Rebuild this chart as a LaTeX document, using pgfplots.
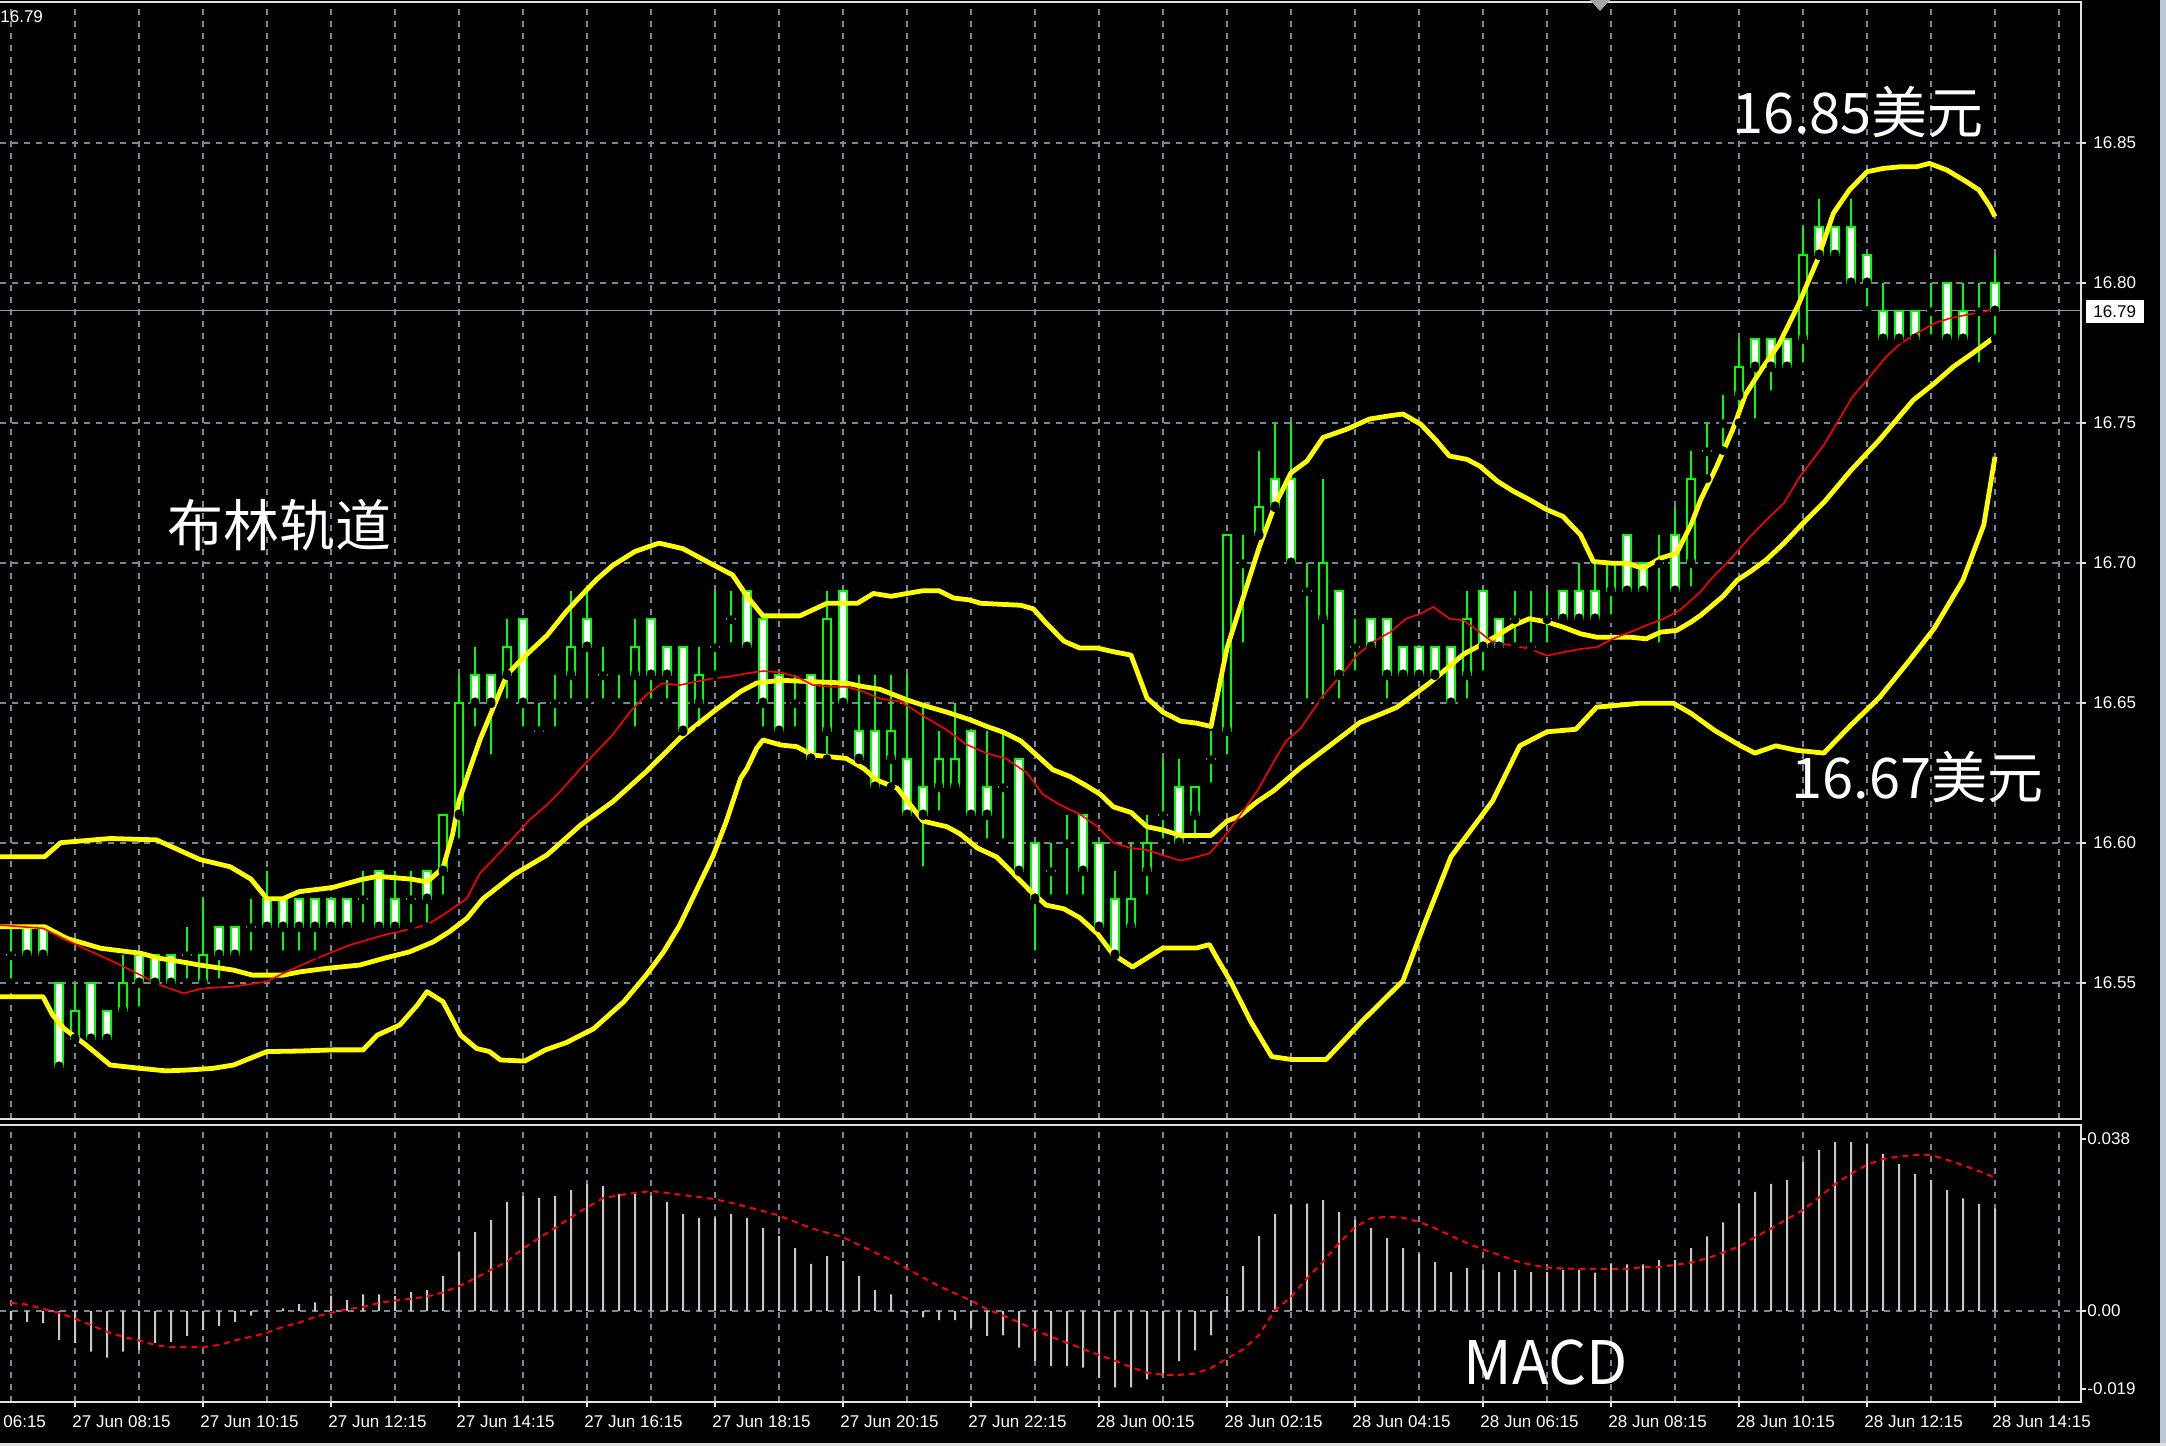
\documentclass[border=0pt]{standalone}
\usepackage{pgfplots}
\pgfplotsset{compat=1.18}
\usepackage{pgfplotstable}
\usepackage{fontspec}
\setmainfont{Liberation Sans}
\newfontfamily\cjk{Noto Sans CJK SC}
\definecolor{gridc}{RGB}{119,136,153}
\definecolor{candleg}{RGB}{0,255,0}
\definecolor{bandy}{RGB}{255,255,0}
\definecolor{framec}{RGB}{225,225,225}
\definecolor{bidc}{RGB}{140,152,168}
\definecolor{histc}{RGB}{200,200,200}
\definecolor{winb}{RGB}{190,200,215}
\definecolor{botc}{RGB}{225,225,225}
\newcommand\tlfont{\fontsize{8.5}{8.5}\selectfont}

\pgfplotstableread{
i o h l c
0 16.56 16.57 16.55 16.56
1 16.57 16.57 16.56 16.56
2 16.57 16.57 16.56 16.56
3 16.55 16.55 16.52 16.52
4 16.53 16.55 16.53 16.54
5 16.55 16.55 16.53 16.53
6 16.54 16.54 16.53 16.53
7 16.54 16.56 16.54 16.55
8 16.56 16.56 16.54 16.55
9 16.56 16.56 16.55 16.55
10 16.56 16.56 16.55 16.55
11 16.56 16.57 16.55 16.56
12 16.55 16.58 16.55 16.56
13 16.57 16.57 16.55 16.56
14 16.57 16.57 16.56 16.56
15 16.57 16.58 16.56 16.57
16 16.58 16.59 16.57 16.57
17 16.58 16.58 16.56 16.57
18 16.58 16.58 16.56 16.57
19 16.58 16.58 16.56 16.57
20 16.58 16.58 16.57 16.57
21 16.58 16.58 16.57 16.57
22 16.58 16.59 16.57 16.58
23 16.59 16.59 16.57 16.57
24 16.58 16.59 16.57 16.57
25 16.58 16.59 16.57 16.58
26 16.59 16.59 16.57 16.58
27 16.59 16.61 16.58 16.61
28 16.61 16.66 16.60 16.65
29 16.66 16.67 16.64 16.65
30 16.66 16.66 16.63 16.65
31 16.66 16.68 16.65 16.67
32 16.68 16.68 16.64 16.65
33 16.64 16.65 16.64 16.64
34 16.65 16.66 16.64 16.65
35 16.66 16.69 16.65 16.67
36 16.68 16.69 16.65 16.67
37 16.66 16.67 16.65 16.66
38 16.65 16.66 16.65 16.65
39 16.66 16.68 16.64 16.67
40 16.68 16.68 16.65 16.66
41 16.67 16.67 16.65 16.66
42 16.67 16.67 16.64 16.64
43 16.65 16.67 16.64 16.66
44 16.67 16.69 16.66 16.67
45 16.68 16.69 16.67 16.68
46 16.69 16.69 16.67 16.67
47 16.68 16.68 16.64 16.65
48 16.66 16.66 16.64 16.64
49 16.65 16.66 16.64 16.65
50 16.66 16.66 16.63 16.63
51 16.64 16.69 16.63 16.68
52 16.69 16.69 16.65 16.65
53 16.64 16.66 16.63 16.63
54 16.64 16.66 16.62 16.62
55 16.63 16.66 16.62 16.64
56 16.63 16.66 16.61 16.61
57 16.62 16.65 16.59 16.61
58 16.62 16.64 16.61 16.63
59 16.62 16.65 16.62 16.63
60 16.64 16.64 16.61 16.61
61 16.62 16.64 16.60 16.61
62 16.62 16.64 16.60 16.62
63 16.63 16.63 16.59 16.59
64 16.60 16.60 16.56 16.58
65 16.59 16.60 16.58 16.59
66 16.60 16.61 16.58 16.60
67 16.61 16.61 16.58 16.59
68 16.60 16.60 16.57 16.57
69 16.58 16.59 16.56 16.56
70 16.57 16.60 16.57 16.58
71 16.59 16.61 16.58 16.60
72 16.61 16.63 16.60 16.61
73 16.62 16.63 16.60 16.60
74 16.61 16.62 16.60 16.62
75 16.63 16.64 16.62 16.63
76 16.64 16.71 16.63 16.71
77 16.70 16.71 16.67 16.70
78 16.71 16.74 16.71 16.72
79 16.73 16.75 16.72 16.72
80 16.73 16.75 16.70 16.70
81 16.69 16.70 16.65 16.69
82 16.68 16.73 16.65 16.70
83 16.69 16.69 16.65 16.66
84 16.67 16.68 16.66 16.67
85 16.68 16.68 16.67 16.67
86 16.68 16.68 16.65 16.66
87 16.67 16.67 16.66 16.66
88 16.67 16.67 16.66 16.66
89 16.67 16.67 16.66 16.66
90 16.67 16.67 16.65 16.65
91 16.66 16.69 16.65 16.68
92 16.69 16.69 16.66 16.67
93 16.68 16.68 16.67 16.67
94 16.68 16.69 16.67 16.68
95 16.67 16.69 16.67 16.67
96 16.68 16.69 16.67 16.68
97 16.69 16.69 16.68 16.68
98 16.69 16.70 16.68 16.68
99 16.69 16.70 16.68 16.68
100 16.69 16.70 16.68 16.70
101 16.71 16.71 16.69 16.69
102 16.70 16.70 16.69 16.69
103 16.70 16.71 16.67 16.70
104 16.71 16.72 16.69 16.69
105 16.70 16.74 16.69 16.73
106 16.74 16.75 16.73 16.74
107 16.75 16.76 16.74 16.75
108 16.76 16.78 16.75 16.77
109 16.78 16.78 16.75 16.77
110 16.78 16.78 16.76 16.77
111 16.78 16.78 16.77 16.77
112 16.78 16.82 16.77 16.81
113 16.82 16.83 16.81 16.81
114 16.82 16.82 16.81 16.81
115 16.82 16.83 16.80 16.80
116 16.81 16.81 16.79 16.80
117 16.79 16.80 16.78 16.78
118 16.79 16.79 16.78 16.78
119 16.79 16.79 16.78 16.78
120 16.79 16.80 16.78 16.79
121 16.80 16.80 16.78 16.78
122 16.79 16.80 16.78 16.78
123 16.79 16.80 16.77 16.79
124 16.80 16.81 16.78 16.79
}\ohlc

\pgfplotstableread{
x y
-0.7 16.595
2.1 16.595
3.1 16.600
6.2 16.6015
9.1 16.601
11.8 16.594
13.7 16.5914
15 16.587
16 16.580
17 16.580
18 16.5825
20.1 16.584
21.8 16.5867
22.9 16.588
25 16.587
26 16.586
27 16.591
27.6 16.603
28 16.615
29.3 16.6366
31 16.660
32 16.666
33.5 16.674
34.7 16.6825
35.6 16.688
36.6 16.694
37.6 16.699
39 16.704
40.5 16.707
42 16.705
43.5 16.7004
45.1 16.6956
46 16.688
47 16.681
48 16.681
49.3 16.681
51 16.6855
52.9 16.6855
53.9 16.689
55 16.688
57 16.690
58 16.690
58.9 16.6874
59.9 16.6867
60.6 16.6855
63.1 16.6848
63.9 16.6835
64.7 16.6784
65.8 16.672
66.8 16.6695
67.9 16.6695
68.9 16.6682
70 16.667
71 16.6517
72 16.6466
73.1 16.6434
74.1 16.6427
75 16.6415
76 16.6695
77 16.6874
78 16.7053
79 16.7206
80 16.7321
81 16.7363
82 16.7447
83.5 16.7477
84.9 16.7513
86.2 16.7525
87 16.7531
88.1 16.7495
89.1 16.7435
89.9 16.7381
91 16.7369
91.8 16.7345
92.9 16.7291
93.9 16.7255
94.9 16.7225
96 16.7189
97 16.7165
98.1 16.7099
98.9 16.7004
100.1 16.6998
101 16.6998
102 16.6980
103.1 16.7016
104.1 16.7034
105 16.7135
105.6 16.7224
106.6 16.7343
107.6 16.7474
108.4 16.7600
109.4 16.7690
110.5 16.7780
111.7 16.7920
112.9 16.8081
113.9 16.8248
114.9 16.8331
116 16.8396
117 16.8408
118.1 16.8414
119.1 16.8414
119.9 16.8426
121 16.8402
122.2 16.8361
123 16.8331
123.7 16.8271
124 16.8236
}\upperband

\pgfplotstableread{
x y
-0.7 16.570
2.1 16.570
3.5 16.5658
5.6 16.5623
8.1 16.5605
9.3 16.5587
10.6 16.5575
11.8 16.5563
13.9 16.5545
15.1 16.5527
17 16.5527
18.1 16.5539
19.7 16.5551
21.8 16.5563
23.3 16.5587
24.9 16.561
26.4 16.5646
27.4 16.5682
28.5 16.573
29.5 16.580
31.4 16.5885
33.5 16.5956
35.6 16.6063
37.6 16.6146
39.7 16.6254
41.8 16.6373
43.9 16.6468
45.6 16.654
46.6 16.657
48.1 16.658
50.1 16.6575
52.2 16.657
53.3 16.6557
54.3 16.6548
56 16.651
57 16.6491
58.5 16.6466
59.9 16.644
61 16.6415
62 16.6395
63.1 16.6364
64.1 16.6313
65.1 16.6261
66.2 16.6236
67.2 16.6204
68.1 16.6172
68.9 16.6128
70 16.6108
71 16.6057
72 16.6045
73.1 16.6026
74.1 16.6026
75 16.6026
76 16.6077
76.8 16.6096
77.9 16.6147
78.9 16.6185
80.6 16.6268
82.5 16.6350
84.3 16.6429
85.6 16.6459
86.6 16.6483
87.6 16.6525
88.7 16.6572
89.7 16.662
90.8 16.6674
91.8 16.6704
92.9 16.674
93.9 16.6776
94.9 16.680
96 16.6788
97 16.677
98.1 16.6746
99.1 16.6734
100.1 16.6734
101.2 16.6734
102.2 16.6728
103.1 16.6752
104.1 16.6758
105 16.6788
105.6 16.6812
107 16.688
107.9 16.6938
108.7 16.6968
109.7 16.701
110.8 16.7069
111.8 16.7129
113.3 16.7215
115 16.733
116.8 16.744
118.9 16.7581
120.2 16.764
121.4 16.770
122.6 16.7748
124 16.7807
}\midband

\pgfplotstableread{
x y
-0.7 16.545
2 16.545
2.6 16.5385
3.3 16.5337
4.7 16.5277
6.2 16.5206
8.1 16.5194
9.7 16.5185
11 16.5188
12.6 16.5194
13.9 16.5206
16 16.5254
18.1 16.5256
20.1 16.526
22 16.526
22.9 16.5313
24.3 16.5349
25.4 16.542
26 16.5468
27 16.5432
28.1 16.5313
29.1 16.5265
29.9 16.5254
30.6 16.5224
32.1 16.522
33.4 16.526
34.7 16.5286
36.4 16.5335
38.3 16.5432
39.7 16.5527
40.8 16.5611
41.8 16.5706
42.9 16.5837
43.9 16.5956
44.7 16.6075
45.6 16.623
46 16.6265
46.6 16.6337
47 16.6367
48.1 16.6349
49.1 16.6343
50.1 16.6313
52.2 16.6301
53.3 16.6265
54.1 16.6224
55.4 16.6194
57 16.6077
58.5 16.6057
59.3 16.6032
60.4 16.5981
61.6 16.5949
62.6 16.5892
63.7 16.5828
64.7 16.5777
65.8 16.5764
66.8 16.5732
67.9 16.5675
68.9 16.5600
70.1 16.5556
72 16.5624
74.1 16.5624
74.9 16.5636
75.4 16.5585
76.2 16.5507
77.5 16.536
78.8 16.5236
80 16.5226
82.2 16.5226
84.4 16.536
87 16.5507
88.3 16.5704
90 16.595
92.6 16.6149
94.3 16.6346
96 16.6396
97.8 16.6405
99.1 16.6484
101.8 16.6498
103.9 16.6498
105 16.6462
106.5 16.640
108.1 16.6346
109 16.632
110.3 16.6346
111.6 16.633
113.3 16.632
115 16.642
116.8 16.652
118.5 16.664
120.2 16.6765
122 16.6938
123.3 16.7135
124 16.7378
}\lowband

\pgfplotstableread{
x y
-0.7 16.5706
2 16.5694
4.1 16.5635
6.4 16.5575
8.1 16.5527
9.3 16.5492
10.8 16.5462
12 16.548
13.9 16.5486
16 16.5504
17 16.5533
19.1 16.5587
21.2 16.5635
23.3 16.567
26 16.5706
27 16.5742
28.5 16.5801
29.3 16.589
30.8 16.598
32.4 16.6081
33.5 16.6135
34.5 16.6194
35.6 16.6265
36.6 16.6325
37.6 16.6385
38.7 16.6468
39.7 16.6527
40.7 16.6569
41.8 16.6563
42.8 16.6575
43.9 16.6587
44.9 16.6593
46 16.6605
47 16.6613
48.1 16.6608
49.1 16.6593
50.1 16.6563
51.2 16.6557
52.2 16.6557
53.3 16.6539
54.3 16.6515
55.6 16.6504
57 16.6453
58.5 16.6402
59.7 16.6351
61 16.6319
62.2 16.630
63.5 16.6249
64.5 16.6172
65.6 16.6134
66.8 16.6102
67.9 16.6057
68.9 16.600
70 16.5981
71 16.5974
72 16.5955
73.1 16.5936
74.1 16.5949
74.9 16.5962
75.8 16.6019
76.8 16.6096
77.9 16.6185
78.9 16.6287
79.7 16.6364
80.6 16.6408
82 16.6525
83.1 16.6596
84.1 16.6668
85.1 16.6716
86.2 16.6752
87.2 16.680
88.1 16.6818
88.9 16.6842
89.9 16.680
90.8 16.6794
91.8 16.6752
92.6 16.6716
93.9 16.6704
94.9 16.6692
96 16.6668
97 16.668
98.1 16.6692
99.1 16.6698
100.1 16.6728
101.2 16.6752
102.2 16.6776
103.3 16.680
104.3 16.683
105.6 16.6896
106.2 16.6938
107.6 16.7021
108.7 16.7093
109.7 16.7152
110.8 16.7212
111.8 16.7307
113.3 16.742
115.1 16.7593
116 16.7652
117.2 16.7736
118.1 16.7783
119.1 16.7819
120.2 16.7855
121.2 16.7873
122.2 16.7885
123.3 16.7896
123.9 16.7906
}\redma

\pgfplotstableread{
i h s
0 -0.0020 0.0018
1 -0.0024 0.0014
2 -0.0027 0.0005
3 -0.0064 -0.0004
4 -0.0071 -0.0017
5 -0.0090 -0.0031
6 -0.0103 -0.0046
7 -0.0090 -0.0057
8 -0.0086 -0.0065
9 -0.0071 -0.0075
10 -0.0068 -0.0080
11 -0.0055 -0.0080
12 -0.0042 -0.0080
13 -0.0033 -0.0075
14 -0.0024 -0.0065
15 -0.0010 -0.0057
16 0.0002 -0.0048
17 0.0006 -0.0035
18 0.0015 -0.0026
19 0.0019 -0.0013
20 0.0034 -0.0004
21 0.0024 0.0004
22 0.0037 0.0009
23 0.0037 0.0018
24 0.0033 0.0023
25 0.0042 0.0027
26 0.0046 0.0032
27 0.0077 0.0041
28 0.0131 0.0055
29 0.0174 0.0072
30 0.0201 0.0091
31 0.0241 0.0109
32 0.0254 0.0138
33 0.0250 0.0161
34 0.0254 0.0183
35 0.0267 0.0207
36 0.0281 0.0229
37 0.0276 0.0249
38 0.0259 0.0256
39 0.0259 0.0261
40 0.0254 0.0265
41 0.0241 0.0261
42 0.0214 0.0256
43 0.0206 0.0252
44 0.0206 0.0247
45 0.0214 0.0239
46 0.0206 0.0230
47 0.0183 0.0221
48 0.0166 0.0211
49 0.0139 0.0197
50 0.0104 0.0183
51 0.0121 0.0173
52 0.0110 0.0163
53 0.0077 0.0146
54 0.0046 0.0129
55 0.0037 0.0113
56 -0.0004 0.0094
57 -0.0014 0.0074
58 -0.0020 0.0055
59 -0.0020 0.0039
60 -0.0037 0.0023
61 -0.0055 0.0004
62 -0.0054 -0.0010
63 -0.0081 -0.0025
64 -0.0111 -0.0042
65 -0.0122 -0.0057
66 -0.0122 -0.0070
67 -0.0125 -0.0084
68 -0.0147 -0.0097
69 -0.0169 -0.0110
70 -0.0169 -0.0124
71 -0.0151 -0.0136
72 -0.0138 -0.0141
73 -0.0111 -0.0141
74 -0.0087 -0.0138
75 -0.0054 -0.0126
76 0.0033 -0.0105
77 0.0099 -0.0085
78 0.0166 -0.0053
79 0.0214 0.0002
80 0.0234 0.0031
81 0.0237 0.0072
82 0.0245 0.0109
83 0.0219 0.0150
84 0.0201 0.0185
85 0.0183 0.0205
86 0.0161 0.0208
87 0.0139 0.0206
88 0.0126 0.0197
89 0.0108 0.0183
90 0.0086 0.0166
91 0.0095 0.0150
92 0.0091 0.0136
93 0.0086 0.0124
94 0.0091 0.0111
95 0.0086 0.0102
96 0.0086 0.0096
97 0.0091 0.0094
98 0.0091 0.0093
99 0.0085 0.0093
100 0.0105 0.0093
101 0.0103 0.0093
102 0.0103 0.0097
103 0.0113 0.0097
104 0.0113 0.0102
105 0.0139 0.0107
106 0.0165 0.0116
107 0.0196 0.0129
108 0.0238 0.0142
109 0.0263 0.0163
110 0.0281 0.0182
111 0.0289 0.0203
112 0.0329 0.0223
113 0.0356 0.0251
114 0.0373 0.0280
115 0.0373 0.0303
116 0.0370 0.0323
117 0.0347 0.0336
118 0.0325 0.0341
119 0.0303 0.0345
120 0.0289 0.0345
121 0.0267 0.0334
122 0.0249 0.0322
123 0.0236 0.0309
124 0.0227 0.0295
}\macd

\begin{document}
\begin{tikzpicture}
\fill[black] (0pt,0pt) rectangle (1083pt,723pt);

% ---------------- MACD panel ----------------
\begin{axis}[
  at={(0pt,22pt)}, anchor=south west,
  scale only axis, width=1040.5pt, height=138.5pt,
  xmin=-0.6875, xmax=129.375, ymin=-0.020106, ymax=0.041096,
  axis line style={draw=none},
  clip=false,
  xtick={0,4,...,128}, xticklabels={},
  ytick={0}, yticklabels={},
  major tick length=0pt, tick style={draw=none},
  grid=major,
  major grid style={draw=gridc, line width=0.9pt, dash pattern=on 3pt off 3pt},
]
\addplot[ybar, bar width=1pt, fill=histc, draw=none, forget plot] table[x=i, y=h] {\macd};
\addplot[red, line width=1pt, dash pattern=on 3pt off 2.5pt, forget plot] table[x=i, y=s] {\macd};
\draw[framec, line width=1pt] (rel axis cs:0,1) -- (rel axis cs:1,1) -- (rel axis cs:1,0) -- (rel axis cs:0,0);
\end{axis}

% ---------------- main price panel ----------------
\begin{axis}[
  at={(0pt,163.5pt)}, anchor=south west,
  scale only axis, width=1040.5pt, height=558.5pt,
  xmin=-0.6875, xmax=129.375, ymin=16.50132, ymax=16.90025,
  axis line style={draw=none},
  clip=false,
  xtick={0,4,...,128}, xticklabels={},
  ytick={16.55,16.60,16.65,16.70,16.75,16.80,16.85}, yticklabels={},
  major tick length=0pt, tick style={draw=none},
  grid=major,
  major grid style={draw=gridc, line width=0.9pt, dash pattern=on 3pt off 3pt},
]
\addplot[bidc, line width=0.8pt, forget plot] coordinates {(-0.6875,16.79) (129.375,16.79)};
% wicks (low to high)
\addplot[only marks, mark=none, forget plot,
  error bars/.cd, y dir=plus, y explicit, error mark=none,
  error bar style={draw=candleg, line width=0.9pt}]
  table[x=i, y=l, y error expr={\thisrow{h}-\thisrow{l}}] {\ohlc};
% body outlines
\addplot[only marks, mark=none, forget plot,
  error bars/.cd, y dir=plus, y explicit, error mark=none,
  error bar style={draw=candleg, line width=5pt}]
  table[x=i, y expr={min(\thisrow{o},\thisrow{c})-0.0004}, y error expr={abs(\thisrow{o}-\thisrow{c})+0.0008}] {\ohlc};
% bear bodies (white)
\addplot[only marks, mark=none, forget plot,
  restrict expr to domain={\thisrow{o}-\thisrow{c}}{0.005:1},
  error bars/.cd, y dir=plus, y explicit, error mark=none,
  error bar style={draw=white, line width=3.4pt}]
  table[x=i, y expr={min(\thisrow{o},\thisrow{c})+0.0003}, y error expr={abs(\thisrow{o}-\thisrow{c})-0.0006}] {\ohlc};
% bull bodies (black)
\addplot[only marks, mark=none, forget plot,
  restrict expr to domain={\thisrow{c}-\thisrow{o}}{0.005:1},
  error bars/.cd, y dir=plus, y explicit, error mark=none,
  error bar style={draw=black, line width=3.4pt}]
  table[x=i, y expr={min(\thisrow{o},\thisrow{c})+0.0003}, y error expr={abs(\thisrow{o}-\thisrow{c})-0.0006}] {\ohlc};
\addplot[bandy, line width=2.4pt, line join=round, forget plot] table[x=x,y=y] {\upperband};
\addplot[bandy, line width=2.4pt, line join=round, forget plot] table[x=x,y=y] {\midband};
\addplot[bandy, line width=2.4pt, line join=round, forget plot] table[x=x,y=y] {\lowband};
\addplot[red, line width=0.8pt, forget plot] table[x=x,y=y] {\redma};
\draw[framec, line width=1pt] (rel axis cs:0,1) -- (rel axis cs:1,1) -- (rel axis cs:1,0) -- (rel axis cs:0,0);
\end{axis}

% ---------------- tick marks and labels ----------------
\foreach \yy in {651.65,581.65,511.65,441.65,371.65,301.65,231.65}
  \draw[framec, line width=1pt] (1040.5pt,\yy pt) -- (1043pt,\yy pt);
\foreach \p/\yy in {16.85/651.65,16.80/581.65,16.75/511.65,16.70/441.65,16.65/371.65,16.60/301.65,16.55/231.65}
  \node[anchor=west, text=white, inner sep=0pt, font=\tlfont] at (1046.5pt,\yy pt) {\p};
\fill[white] (1043pt,561.5pt) rectangle (1072pt,573pt);
\node[anchor=west, text=black, inner sep=0pt, font=\tlfont] at (1046.5pt,567.3pt) {16.79};

\foreach \yy in {153.5,67.5,28.5}
  \draw[framec, line width=1pt] (1040.5pt,\yy pt) -- (1043pt,\yy pt);
\node[anchor=west, text=white, inner sep=0pt, font=\tlfont] at (1043.5pt,153.5pt) {0.038};
\node[anchor=west, text=white, inner sep=0pt, font=\tlfont] at (1043.5pt,67.5pt) {0.00};
\node[anchor=west, text=white, inner sep=0pt, font=\tlfont] at (1043.5pt,28.5pt) {-0.019};

\foreach \i in {4,12,...,124}{
  \pgfmathsetmacro\xx{(11+16*\i)/2}
  \draw[framec, line width=1pt] (\xx pt,22pt) -- (\xx pt,19.3pt);
}
\node[anchor=west, text=white, inner sep=0pt, font=\tlfont] at (1.5pt,12pt) {06:15};
\foreach \i/\t in {4/27 Jun 08:15, 12/27 Jun 10:15, 20/27 Jun 12:15,
  28/27 Jun 14:15, 36/27 Jun 16:15, 44/27 Jun 18:15, 52/27 Jun 20:15, 60/27 Jun 22:15,
  68/28 Jun 00:15, 76/28 Jun 02:15, 84/28 Jun 04:15, 92/28 Jun 06:15, 100/28 Jun 08:15,
  108/28 Jun 10:15, 116/28 Jun 12:15, 124/28 Jun 14:15}{
  \pgfmathsetmacro\xx{(11+16*\i-3)/2}
  \node[anchor=west, text=white, inner sep=0pt, font=\tlfont] at (\xx pt,12pt) {\t};
}

\node[anchor=west, text=white, inner sep=0pt, font=\tlfont] at (0pt,714.5pt) {16.79};
\fill[gray!70] (795pt,723pt) -- (805pt,723pt) -- (800pt,717.5pt) -- cycle;

% annotations
\node[text=white, inner sep=0pt, font=\cjk\fontsize{28}{28}\selectfont] at (139.9pt,460.5pt) {布林轨道};
\node[text=white, inner sep=0pt, font=\cjk\fontsize{28}{28}\selectfont] at (929pt,667pt) {16.85美元};
\node[text=white, inner sep=0pt, font=\cjk\fontsize{28}{28}\selectfont] at (958.6pt,334.5pt) {16.67美元};
\node[text=white, inner sep=0pt, font=\cjk\fontsize{30}{30}\selectfont] at (773pt,41.6pt) {MACD};

% window border
\fill[winb] (1080pt,0pt) rectangle (1083pt,723pt);
\fill[botc] (0pt,0pt) rectangle (1083pt,1.5pt);

\pgfresetboundingbox
\useasboundingbox (0pt,0pt) rectangle (1083pt,723pt);
\end{tikzpicture}
\end{document}
